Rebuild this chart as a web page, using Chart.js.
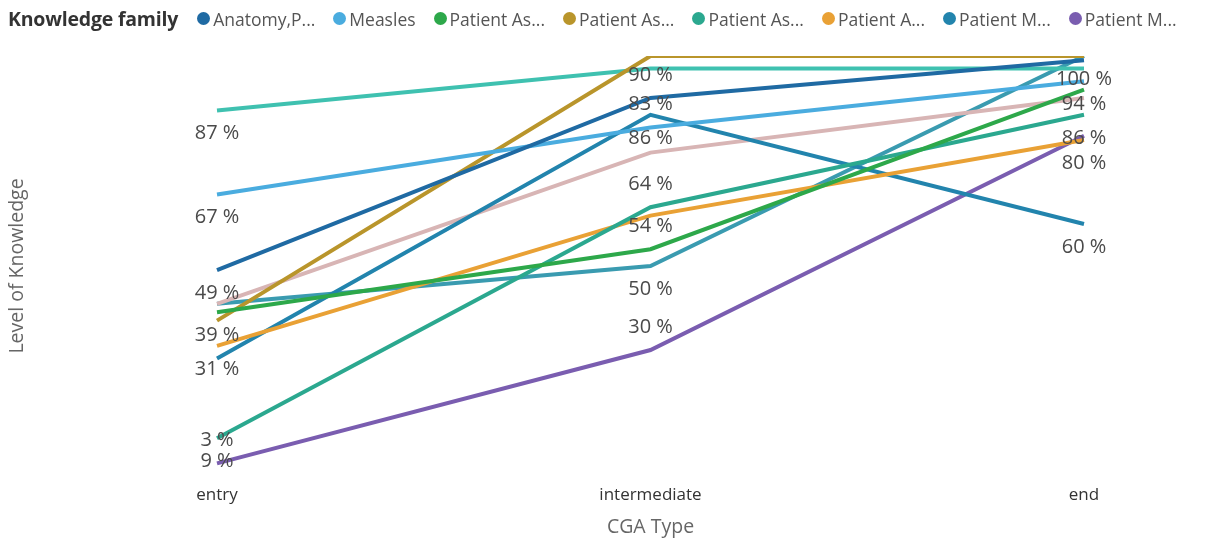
<!DOCTYPE html>
<html>
<head>
<meta charset="utf-8">
<script src="https://cdn.jsdelivr.net/npm/chart.js@4/dist/chart.umd.min.js"></script>
<style>
  html, body { margin: 0; padding: 0; background: #fff; }
  #wrap { position: relative; width: 1209px; height: 541px; }
  #legend {
    position: absolute; top: 0; left: 8px; height: 37px; right: 0;
    display: flex; align-items: center; white-space: nowrap; overflow: hidden;
    font-family: "Open Sans", sans-serif; font-size: 17.5px; color: #555;
  }
  #legend .ttl { font-weight: bold; font-size: 19.5px; color: #333; margin-right: 19px; letter-spacing: -0.2px; }
  #legend .item { display: flex; align-items: center; margin-right: 18px; }
  #legend .dot { width: 13px; height: 13px; border-radius: 50%; margin-right: 3px; }
</style>
</head>
<body>
<div id="wrap">
  <canvas id="grafico"></canvas>
  <div id="legend"></div>
</div>
<script>
// categorias e valores (%)
const categorias = ['entry', 'intermediate', 'end'];

const anatomia   = [49, 90, 99];
const sarampo    = [67, 83, 94];
const pacAs1     = [39, 54, 92];
const pacAs2     = [37, 100, 100];
const pacAs3     = [9, 64, 86];
const pacA       = [31, 62, 80];
const pacM1      = [28, 86, 60];
const pacM2      = [3, 30, 81];
const extra1     = [41, 77, 90];
const extra2     = [87, 97, 97];
const extra3     = [41, 50, 100];

const nomes = ['Anatomy,P...', 'Measles', 'Patient As...', 'Patient As...', 'Patient As...',
               'Patient A...', 'Patient M...', 'Patient M...', 'Patient S...', 'Patient S...', 'Patient T...'];
const valores = [anatomia, sarampo, pacAs1, pacAs2, pacAs3, pacA, pacM1, pacM2, extra1, extra2, extra3];
const cores = ['#1f6aa3', '#4aacdf', '#2da84a', '#b9952b', '#2ba88f', '#e9a135',
               '#2284ad', '#7a5db0', '#d8b5b5', '#3fc1b0', '#3a9bb0'];

// rótulos visíveis: [série, ponto, posição]
const rotulos = [
    [9, 0, 'below'], [1, 0, 'below'], [0, 0, 'below'], [2, 0, 'below'], [5, 0, 'below'], [4, 0, 'below'], [7, 0, 'above'],
    [0, 1, 'above'], [1, 1, 'above'], [6, 1, 'below'], [4, 1, 'above'], [2, 1, 'above'], [10, 1, 'below'], [7, 1, 'above'],
    [3, 2, 'below'], [1, 2, 'below'], [4, 2, 'below'], [5, 2, 'below'], [6, 2, 'below']
];

const legenda = document.getElementById('legend');
legenda.innerHTML = '<span class="ttl">Knowledge family</span>' +
    nomes.slice(0, 8).map((n, i) =>
        '<span class="item"><span class="dot" style="background:' + cores[i] + '"></span>' + n + '</span>').join('');

const pluginRotulos = {
    id: 'rotulos',
    afterDatasetsDraw(chart) {
        const ctx = chart.ctx;
        ctx.save();
        ctx.font = '20px "Open Sans", sans-serif';
        ctx.fillStyle = '#4a4a4a';
        ctx.textAlign = 'center';
        ctx.textBaseline = 'middle';
        rotulos.forEach(([s, p, pos]) => {
            const pt = chart.getDatasetMeta(s).data[p];
            const dy = pos === 'below' ? 23 : -23;
            ctx.fillText(valores[s][p] + ' %', pt.x, pt.y + dy);
        });
        ctx.restore();
    }
};

const ctx = document.getElementById('grafico').getContext('2d');
new Chart(ctx, {
    type: 'line',
    data: {
        labels: categorias,
        datasets: valores.map((v, i) => ({
            label: nomes[i],
            data: v,
            borderColor: cores[i],
            backgroundColor: cores[i],
            borderWidth: 4,
            pointRadius: 0,
            tension: 0,
            fill: false
        }))
    },
    options: {
        responsive: true,
        maintainAspectRatio: false,
        animation: false,
        layout: { padding: { top: 56, right: 125, bottom: 2, left: 2 } },
        plugins: {
            legend: { display: false },
            tooltip: { enabled: false }
        },
        scales: {
            x: {
                offset: false,
                grid: { display: false, drawTicks: false },
                border: { display: false },
                ticks: { padding: 9, color: '#333', font: { family: 'Open Sans', size: 17 } },
                title: {
                    display: true, text: 'CGA Type', color: '#666',
                    font: { family: 'Open Sans', size: 19.5 },
                    padding: { top: 4, bottom: 0 }
                },
                afterFit(scale) { scale.height = 63; }
            },
            y: {
                min: 0,
                max: 100,
                grid: { display: false, drawTicks: false },
                border: { display: false },
                ticks: { display: false },
                title: {
                    display: true, text: 'Level of Knowledge', color: '#666',
                    font: { family: 'Open Sans', size: 19.5 }
                },
                afterFit(scale) { scale.width = 215; }
            }
        }
    },
    plugins: [pluginRotulos]
});
</script>
</body>
</html>
